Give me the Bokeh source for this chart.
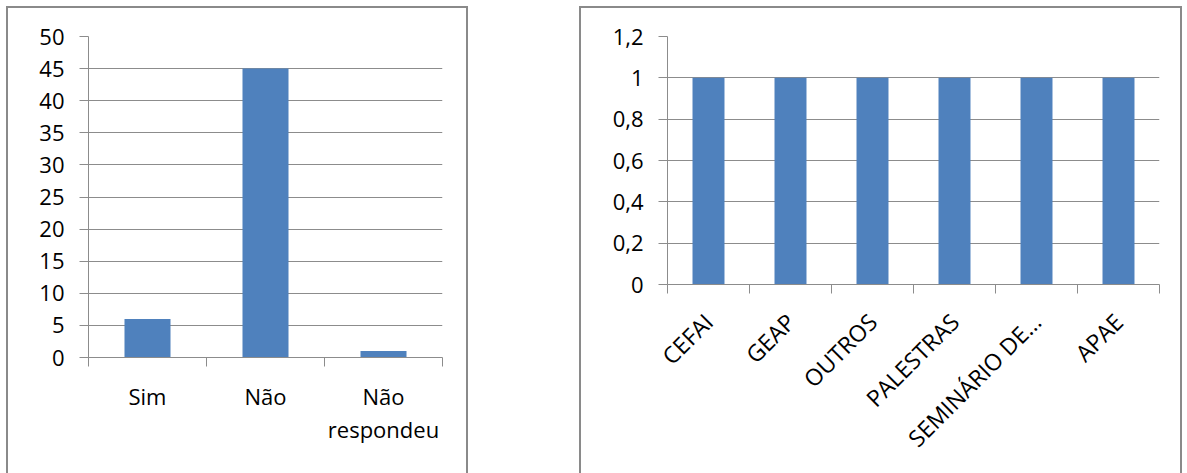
import math
from bokeh.plotting import figure
from bokeh.layouts import row, column
from bokeh.models import Spacer, FixedTicker, Range1d
from bokeh.embed import file_html
from bokeh.resources import INLINE

# ---- data ----
cats1 = ["Sim", "Não", "Não\nrespondeu"]
vals1 = [6, 45, 1]
y1_ticks = [0, 5, 10, 15, 20, 25, 30, 35, 40, 45, 50]
y1_labels = ["0", "5", "10", "15", "20", "25", "30", "35", "40", "45", "50"]

cats2 = ["CEFAI", "GEAP", "OUTROS", "PALESTRAS", "SEMINÁRIO DE…", "APAE"]
vals2 = [1, 1, 1, 1, 1, 1]
y2_ticks = [0, 0.2, 0.4, 0.6, 0.8, 1, 1.2]
y2_labels = ["0", "0,2", "0,4", "0,6", "0,8", "1", "1,2"]

BLUE = "#4F81BD"
GRAY = "#8c8c8c"
FONT = "Open Sans"


def make_chart(cats, vals, yticks, ylabels, width, height, mbl, mbr, mbt, mbb,
               fy, fx, orient, x_standoff, y_standoff):
    n = len(cats)
    p = figure(width=width, height=height, x_range=Range1d(0, n),
               y_range=Range1d(yticks[0], yticks[-1]),
               output_backend="svg", toolbar_location=None,
               min_border_left=mbl, min_border_right=mbr,
               min_border_top=mbt, min_border_bottom=mbb)
    p.outline_line_color = None
    p.background_fill_color = "white"
    p.border_fill_color = "white"

    p.vbar(x=[i + 0.5 for i in range(n)], top=vals, width=0.39,
           fill_color=BLUE, line_color=None)

    # y axis
    ya = p.yaxis[0]
    ya.ticker = FixedTicker(ticks=yticks)
    ya.major_label_overrides = {t: l for t, l in zip(yticks, ylabels)}
    ya.major_tick_out = 9
    ya.major_tick_in = 0
    ya.minor_tick_line_color = None
    ya.axis_line_color = GRAY
    ya.major_tick_line_color = GRAY
    ya.major_label_text_font = FONT
    ya.major_label_text_font_size = fy
    ya.major_label_text_color = "black"
    ya.major_label_standoff = y_standoff

    p.ygrid[0].ticker = FixedTicker(ticks=yticks)
    p.ygrid[0].grid_line_color = GRAY
    p.xgrid[0].visible = False

    # x axis: labels at category centres, tick marks (minor) at boundaries
    centers = [i + 0.5 for i in range(n)]
    xa = p.xaxis[0]
    xa.ticker = FixedTicker(ticks=centers, minor_ticks=list(range(n + 1)))
    xa.major_label_overrides = {c: t for c, t in zip(centers, cats)}
    xa.major_tick_out = 9
    xa.major_tick_in = 0
    xa.major_tick_line_color = None
    xa.minor_tick_out = 9
    xa.minor_tick_in = 0
    xa.minor_tick_line_color = GRAY
    xa.axis_line_color = GRAY
    xa.major_label_text_font = FONT
    xa.major_label_text_font_size = fx
    xa.major_label_text_color = "black"
    xa.major_label_standoff = x_standoff
    xa.major_label_text_line_height = 1.1
    if orient:
        xa.major_label_orientation = orient
    return p


p1 = make_chart(cats1, vals1, y1_ticks, y1_labels, 458, 465, 80, 24, 28, 116,
                "22px", "22px", None, 14, 15)
p2 = make_chart(cats2, vals2, y2_ticks, y2_labels, 599, 465, 86, 21, 28, 189,
                "22px", "23px", math.pi / 4, 24, 15)

bstyle = {"border-top": "2px solid #8a8a8a", "border-left": "2px solid #8a8a8a",
          "border-right": "2px solid #8a8a8a", "background": "white"}
box1 = column(p1, styles=bstyle)
box2 = column(p2, styles=bstyle)

layout = column(Spacer(height=6),
                row(Spacer(width=6), box1, Spacer(width=111), box2))

open("out.html", "w").write(file_html(layout, INLINE))
